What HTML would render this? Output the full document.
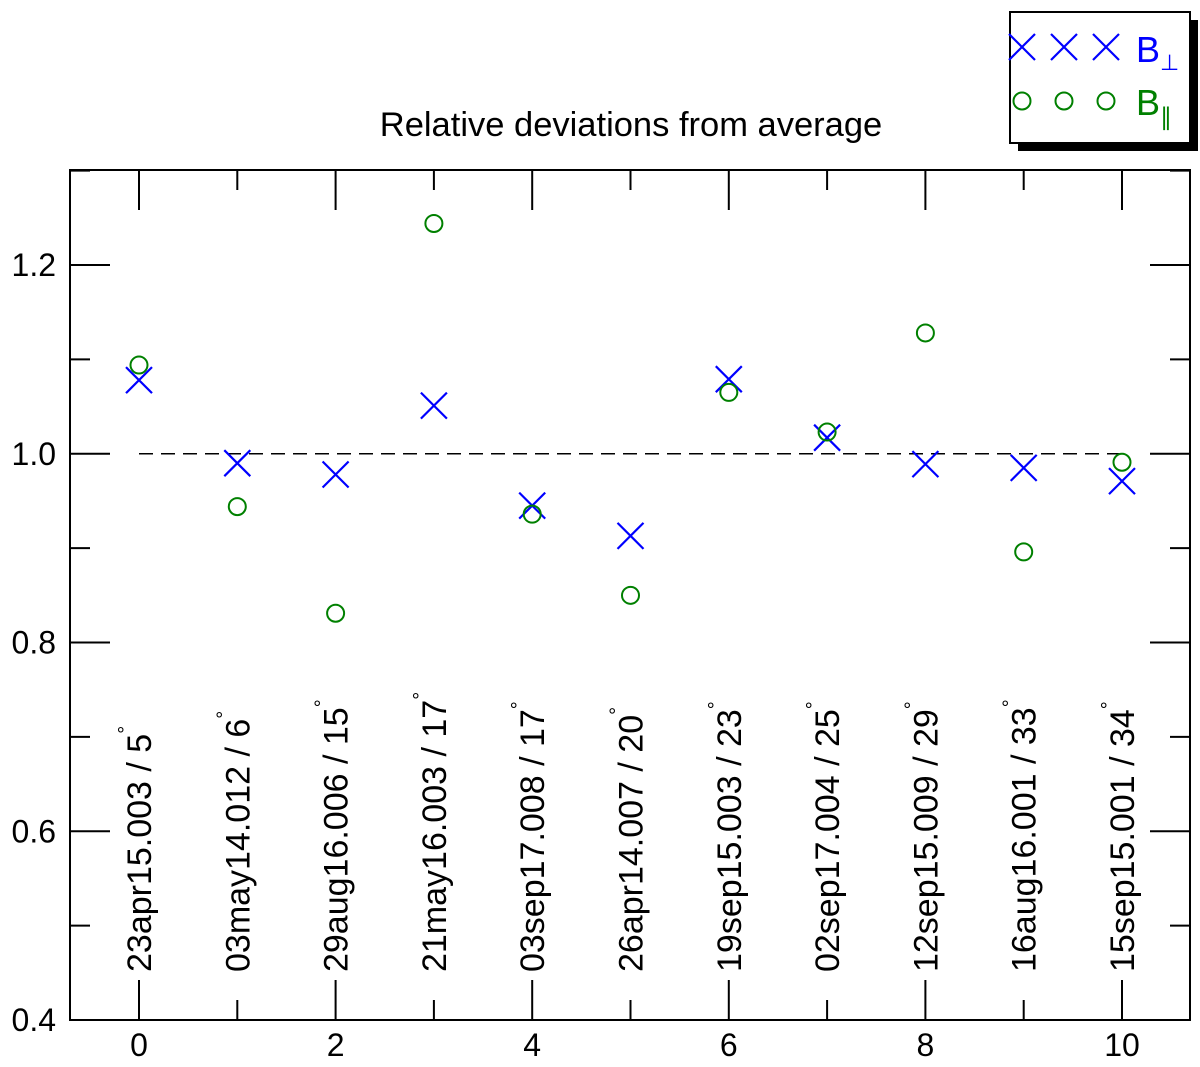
<!DOCTYPE html>
<html><head><meta charset="utf-8"><style>
body{margin:0;background:#fff}
svg{display:block;font-family:"Liberation Sans",Arial,sans-serif}
</style></head><body>
<svg id="chart" width="1200" height="1067" viewBox="0 0 1200 1067">
<text x="631" y="136" font-size="34.5" text-anchor="middle">Relative deviations from average</text>
<g id="axes"></g>
<line id="refline" stroke="#000" stroke-width="1.6" stroke-dasharray="14,8"/>
<g id="labels"></g>
<g id="marks"></g>
<g>
<rect x="1018" y="20" width="180" height="131" fill="#000"/>
<rect x="1010" y="12" width="180" height="131" fill="#fff" stroke="#000" stroke-width="2"/>
<g stroke="blue" stroke-width="2.2">
<path d="M1009 34l26 26M1035 34l-26 26M1051 34l26 26M1077 34l-26 26M1093 34l26 26M1119 34l-26 26"/>
</g>
<g stroke="green" stroke-width="2" fill="none">
<circle cx="1022" cy="101" r="8.5"/><circle cx="1064" cy="101" r="8.5"/><circle cx="1106" cy="101" r="8.5"/>
</g>
<text x="1136" y="62" font-size="36" fill="blue">B<tspan font-size="22" dy="8">⊥</tspan></text>
<text x="1136" y="115" font-size="36" fill="green">B<tspan font-size="24" dy="10">∥</tspan></text>
</g>
</svg>
<script>
const categories=[0,1,2,3,4,5,6,7,8,9,10];
const bPerp=[1.078,0.990,0.978,1.051,0.945,0.913,1.079,1.017,0.989,0.985,0.971];
const bPar=[1.094,0.944,0.831,1.244,0.936,0.850,1.065,1.023,1.128,0.896,0.991];
const runLabels=["23apr15.003 / 5","03may14.012 / 6","29aug16.006 / 15","21may16.003 / 17","03sep17.008 / 17","26apr14.007 / 20","19sep15.003 / 23","02sep17.004 / 25","12sep15.009 / 29","16aug16.001 / 33","15sep15.001 / 34"];
const yTicks=[0.4,0.6,0.8,1.0,1.2];
const xTicks=[0,2,4,6,8,10];
const NS="http://www.w3.org/2000/svg";
const L=70,R=1190,T=170,B=1020;
const X=v=>139+(v-0)*(1122-139)/10;
const Y=v=>1020-(v-0.4)*(1020-265)/0.8;
function mk(tag,attrs,parent){const e=document.createElementNS(NS,tag);for(const k in attrs)e.setAttribute(k,attrs[k]);parent.appendChild(e);return e;}
const axes=document.getElementById('axes');
const frame=mk('rect',{x:L,y:T,width:R-L,height:B-T,fill:'none',stroke:'#000','stroke-width':2},axes);


let d='';
for(let v=0.4;v<=1.3001;v+=0.1){const y=Y(v);const maj=Math.abs(Math.round(v*10)%2)===0;const len=maj?40:20;d+=`M${L} ${y}h${len}M${R} ${y}h${-len}`;}
for(let v=-1;v<=11;v++){const x=X(v);if(x<L||x>R)continue;const len=v%2===0?40:20;d+=`M${x} ${B}v${-len}M${x} ${T}v${len}`;}
const tk=mk('path',{d:d,stroke:'#000','stroke-width':2,fill:'none'},axes);


yTicks.forEach(v=>{const t=mk('text',{x:56,y:Y(v)+11,'font-size':32,'text-anchor':'end'},axes);t.textContent=v.toFixed(1);

});
xTicks.forEach(v=>{const t=mk('text',{x:X(v),y:1056,'font-size':32,'text-anchor':'middle'},axes);t.textContent=v;

});
const rl=document.getElementById('refline');
rl.setAttribute('x1',X(0));rl.setAttribute('x2',X(10));rl.setAttribute('y1',Y(1));rl.setAttribute('y2',Y(1));
const lab=document.getElementById('labels');
runLabels.forEach((s,i)=>{const x=X(categories[i])+12,y=972;
const t=mk('text',{x:x,y:y,'font-size':34,transform:`rotate(-90 ${x} ${y})`},lab);
t.textContent=s;
const sup=mk('tspan',{'font-size':20,dy:-19},t);sup.textContent='°';

});
const marks=document.getElementById('marks');
categories.forEach((c,i)=>{const x=X(c),y=Y(bPerp[i]),s=13;
const p=mk('path',{d:`M${x-s} ${y-s}L${x+s} ${y+s}M${x+s} ${y-s}L${x-s} ${y+s}`,stroke:'blue','stroke-width':2.2},marks);


const ci=mk('circle',{cx:x,cy:Y(bPar[i]),r:8.5,fill:'none',stroke:'green','stroke-width':2},marks);

});
</script>
</body></html>
